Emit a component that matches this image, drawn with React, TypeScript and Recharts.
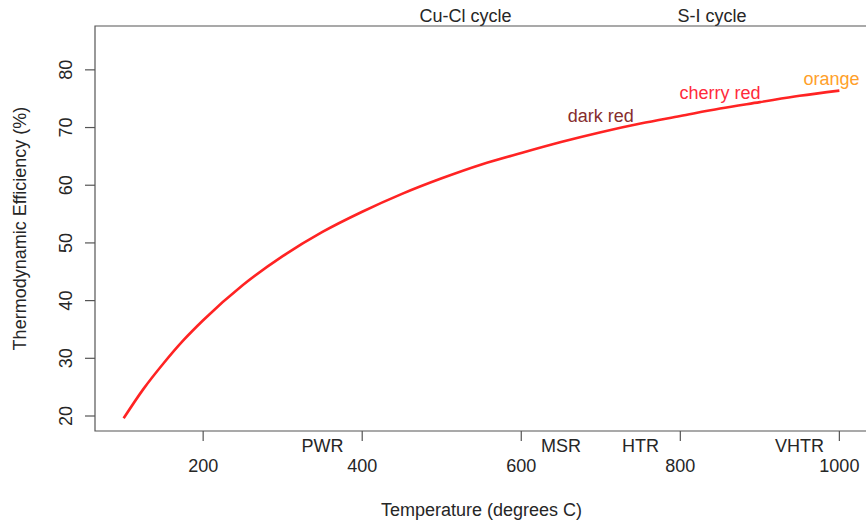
import { LineChart, Line, XAxis, YAxis, ReferenceArea, ReferenceLine, ReferenceDot } from "recharts";

/* ── Data ──────────────────────────────────────────── */

const temperatures = [100, 125, 150, 175, 200, 250, 300, 350, 400, 450, 500, 550, 600, 650, 700, 750, 800, 850, 900, 950, 1000];
const efficiency = [19.6, 24.7, 29.1, 33.1, 36.6, 42.7, 47.7, 51.9, 55.4, 58.5, 61.2, 63.6, 65.6, 67.5, 69.2, 70.7, 72.0, 73.3, 74.4, 75.5, 76.4];

const xTicks = [200, 400, 600, 800, 1000];
const yTicks = [20, 30, 40, 50, 60, 70, 80];

// hydrogen cycles written above the plot box
const cycleNames = ["Cu-Cl cycle", "S-I cycle"];
const cycleTemps = [530, 840];

// reactor types written just under the x axis
const reactorNames = ["PWR", "MSR", "HTR", "VHTR"];
const reactorTemps = [350, 650, 750, 950];

// glow colours written along the curve
const glowNames = ["dark red", "cherry red", "orange"];
const glowTemps = [700, 850, 990];
const glowEff = [72.0, 76.0, 78.4];
const glowInks = ["#862d2d", "#ff2a3c", "#ffa02a"];

const data = temperatures.map((t, i) => ({ t, eff: efficiency[i] }));

/* ── Style ──────────────────────────────────────────── */

const FONT = "'Liberation Sans', Arial, Helvetica, sans-serif";
const INK = "#262626";
const AXIS = "#555";
const FS = 18;

// R pads the axis ranges by 4%
const X_DOMAIN: [number, number] = [64, 1036];
const Y_DOMAIN: [number, number] = [17.4, 87.6];

function XTick({ x, y, payload }: any) {
  return (
    <text x={x} y={y + 29} textAnchor="middle" fill={INK} fontSize={FS} fontFamily={FONT}>
      {payload.value}
    </text>
  );
}

function YTick({ x, y, payload }: any) {
  const bx = x - 11;
  return (
    <text x={bx} y={y} transform={`rotate(-90, ${bx}, ${y})`} textAnchor="middle"
      fill={INK} fontSize={FS} fontFamily={FONT}>
      {payload.value}
    </text>
  );
}

function YTitle({ viewBox }: any) {
  const cx = viewBox.x + 26;
  const cy = viewBox.y + viewBox.height / 2;
  return (
    <text x={cx} y={cy} transform={`rotate(-90, ${cx}, ${cy})`} textAnchor="middle"
      fill={INK} fontSize={FS} fontFamily={FONT}>
      Thermodynamic Efficiency (%)
    </text>
  );
}

export default function App() {
  return (
    <div style={{ position: "absolute", left: 0, top: 0, width: 866, height: 520, overflow: "hidden", background: "#fff" }}>
      <LineChart width={872} height={520} data={data} margin={{ top: 26, right: 4, left: 0, bottom: 0 }}>
        <XAxis
          dataKey="t"
          type="number"
          domain={X_DOMAIN}
          ticks={xTicks}
          allowDataOverflow
          height={89}
          axisLine={false}
          tickSize={10}
          tickLine={{ stroke: AXIS, strokeWidth: 1.2 }}
          tick={<XTick />}
          label={{ value: "Temperature (degrees C)", position: "insideBottom", offset: 4, fill: INK, fontSize: FS, fontFamily: FONT }}
        />
        <YAxis
          type="number"
          domain={Y_DOMAIN}
          ticks={yTicks}
          allowDataOverflow
          width={95}
          axisLine={false}
          tickSize={10}
          tickLine={{ stroke: AXIS, strokeWidth: 1.2 }}
          tick={<YTick />}
          label={<YTitle />}
        />

        {/* plot box */}
        <ReferenceArea x1={X_DOMAIN[0]} x2={X_DOMAIN[1]} y1={Y_DOMAIN[0]} y2={Y_DOMAIN[1]}
          fill="none" stroke={AXIS} strokeWidth={1.2} fillOpacity={0} ifOverflow="visible" />

        {cycleNames.map((name, i) => (
          <ReferenceLine key={name} x={cycleTemps[i]} stroke="none"
            label={{ value: name, position: "top", offset: 4, fill: INK, fontSize: FS, fontFamily: FONT }} />
        ))}

        {reactorNames.map((name, i) => (
          <ReferenceLine key={name} x={reactorTemps[i]} stroke="none"
            label={{ value: name, position: "bottom", offset: 8, fill: INK, fontSize: FS, fontFamily: FONT }} />
        ))}

        {glowNames.map((name, i) => (
          <ReferenceDot key={name} x={glowTemps[i]} y={glowEff[i]} r={0} fill="none" stroke="none"
            ifOverflow="visible"
            label={{ value: name, position: "center", fill: glowInks[i], fontSize: FS, fontFamily: FONT }} />
        ))}

        <Line type="monotone" dataKey="eff" stroke="#ff2323" strokeWidth={2.6} dot={false} isAnimationActive={false} />
      </LineChart>
    </div>
  );
}
